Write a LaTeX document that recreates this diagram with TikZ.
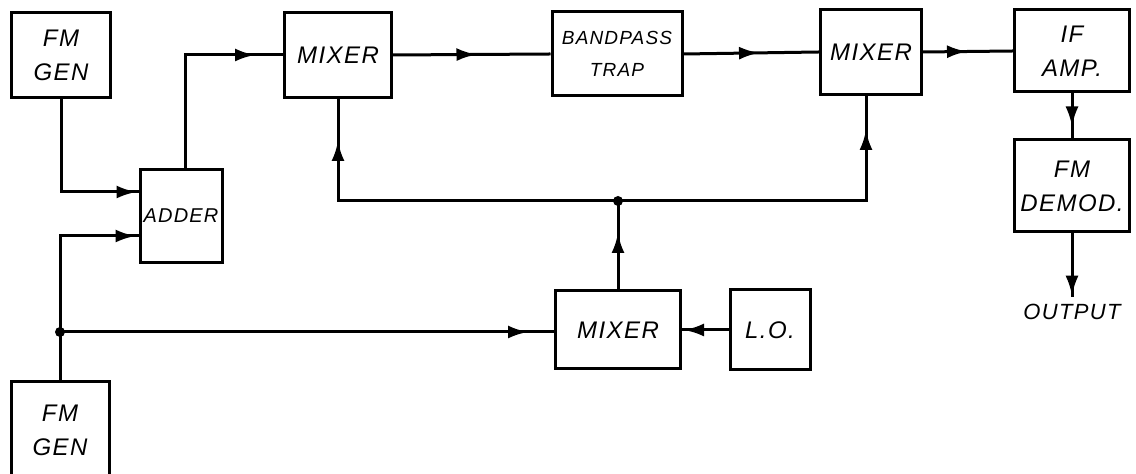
\documentclass[tikz,border=0pt]{standalone}
\usepackage{fontspec}
\setsansfont{Liberation Sans}[LetterSpace=6]
\usetikzlibrary{arrows.meta, positioning, decorations.markings}

\begin{document}
\begin{tikzpicture}[x=0.5pt, y=-0.5pt, line width=1.5pt,
        lettering/.style={font=\sffamily\itshape\fontsize{12}{17}\selectfont, align=center, inner sep=0pt},
        block/.style={draw, rectangle, lettering},
        tipat/.style={postaction={decorate}, decoration={markings, mark=at position #1 with {\arrow{Latex[length=10pt, width=6.5pt]}}}}]
        \useasboundingbox (0,0) rectangle (1136,474);

        \node[block, minimum width=49.5pt, minimum height=42.5pt] (gena) at (61,55) {FM\\GEN};
        \node[block, minimum width=41pt, minimum height=46.5pt, font=\sffamily\itshape\fontsize{10}{17}\selectfont] (adder) at (181,216) {ADDER};
        \node[block, minimum width=49pt, minimum height=48pt] (genb) at (60,430) {FM\\GEN};
        \node[block, minimum width=53.5pt, minimum height=42.5pt] (mixa) at (338,55) {MIXER};
        \node[block, minimum width=65pt, minimum height=42pt, font=\sffamily\itshape\fontsize{9.5}{16}\selectfont] (bpf) at (617,54) {BANDPASS\\TRAP};
        \node[block, minimum width=50.5pt, minimum height=42.5pt] (mixb) at (871,52) {MIXER};
        \node[block, minimum width=57.5pt, minimum height=41pt] (ifamp) at (1072,51) {IF\\AMP.};
        \node[block, minimum width=57.5pt, minimum height=46pt] (demod) at (1072,186) {FM\\DEMOD.};
        \node[block, minimum width=62.5pt, minimum height=39pt] (mixc) at (618,330) {MIXER};
        \node[block, minimum width=40pt, minimum height=40pt] (lo) at (770,330) {L.O.};
        \node[lettering, font=\sffamily\itshape\fontsize{11}{17}\selectfont] (out) at (1072,312) {OUTPUT};

        \coordinate (jn) at (60,332);
        \coordinate (bus) at (618,201);

        % adder inputs
        \draw[tipat=-1pt] (gena.south) |- ([yshift=12pt]adder.west);
        \draw[tipat=-1.5pt] (jn) |- ([yshift=-10pt]adder.west);
        \draw (jn) -- (genb.north);
        \draw[tipat=-14pt] ([xshift=2pt]adder.north) |- (mixa.west);

        % main chain
        \draw[tipat=-37pt] (mixa.east) -- (bpf.west);
        \draw[tipat=-30pt] (bpf.east) -- (mixb.west);
        \draw[tipat=-23pt] (mixb.east) -- (ifamp.west);
        \draw[tipat=-6pt] (ifamp.south) -- (demod.north);
        \draw[tipat=-0.5pt] (demod.south) -- ([yshift=3pt]out.north);

        % local oscillator branch
        \draw[tipat=-13pt] (jn) -- (jn -| mixc.west);
        \draw[tipat=-1pt] (lo.west) -- (mixc.east);
        \draw[tipat=-16pt] (mixc.north) -- (bus);
        \draw[tipat=-21pt] (bus) -| (mixa.south);
        \draw[tipat=-17pt] (bus) -| ([xshift=-2.5pt]mixb.south);

        \fill (jn) circle (2.5pt);
        \fill (bus) circle (2.5pt);
    \end{tikzpicture}
\end{document}
